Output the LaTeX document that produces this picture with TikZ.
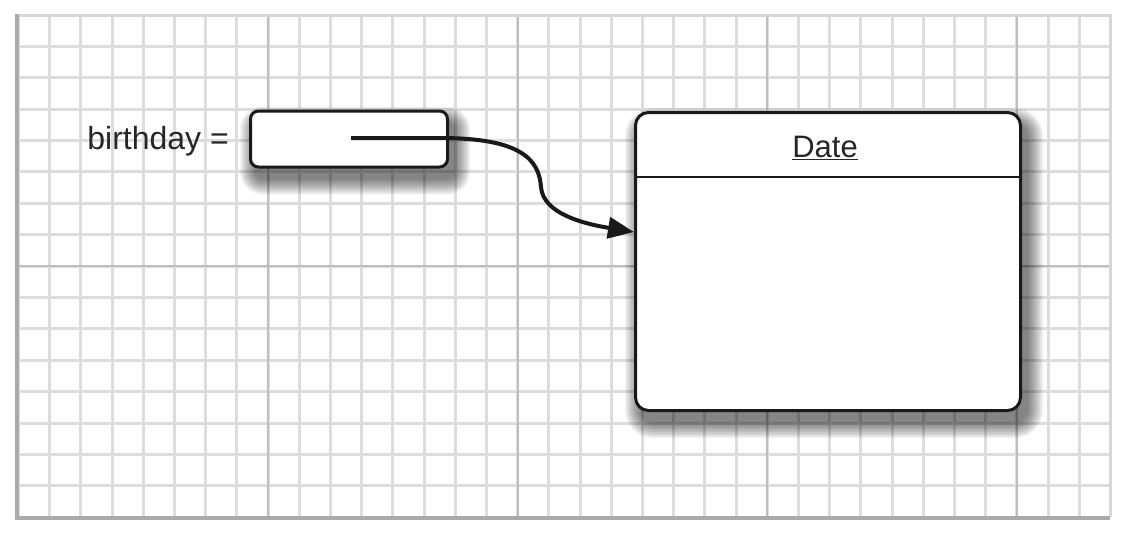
\documentclass[tikz,border=0pt]{standalone}
\usepackage{fontspec}
\setmainfont{Liberation Sans}
\usetikzlibrary{arrows.meta,calc}
\definecolor{minorgrid}{RGB}{221,221,221}
\definecolor{majorgrid}{RGB}{190,190,190}
\definecolor{edgedark}{RGB}{170,170,170}
\definecolor{edgelight}{RGB}{215,215,215}
\pgfdeclarelayer{gridlayer}
\pgfdeclarelayer{shadowlayer}
\pgfsetlayers{gridlayer,shadowlayer,main}
\begin{document}
\begin{tikzpicture}[x=1pt,y=-1pt,
  boxstyle/.style={draw=black!90, line width=3pt, fill=white},
  shadowpiece/.style={fill=black, fill opacity=0.055, draw=none},
  label/.style={font=\fontsize{32}{38}\selectfont, text=black!85, inner sep=0pt},
  conn/.style={line width=4pt, draw=black!90, -{Triangle[length=26pt,width=21pt]}}
]
\useasboundingbox (0,0) rectangle (1140,536);
\begin{pgfonlayer}{gridlayer}
\fill[white] (0,0) rectangle (1140,536);
\foreach \k in {-8,...,27} {
  \draw[minorgrid, line width=3pt] ({268+31.2*\k},15) -- ({268+31.2*\k},517);
}
\foreach \k in {-7,...,7} {
  \draw[minorgrid, line width=3pt] (18,{266+31.4*\k}) -- (1110,{266+31.4*\k});
}
\foreach \k in {0,8,16,24} {
  \draw[majorgrid, line width=2pt] ({268+31.2*\k},15) -- ({268+31.2*\k},517);
}
\draw[majorgrid, line width=2pt] (18,266) -- (1110,266);
\draw[edgelight, line width=3pt] (17,15) -- (1110,15) -- (1110,517);
\draw[edgedark, line width=4pt] (17,14) -- (17,518) -- (1110,518);
\end{pgfonlayer}

% reference box
\node[boxstyle, rounded corners=8pt, minimum width=197pt, minimum height=56pt, inner sep=0pt] (ref) at (349,139) {};
\node[label, anchor=base east] (lbl) at (229,149) {birthday =};

% Date object box
\node[boxstyle, rounded corners=13pt, minimum width=385pt, minimum height=298pt, inner sep=0pt] (date) at (828,261.5) {};
\coordinate (sepL) at ($(date.north west)+(0,66)$);
\coordinate (sepR) at ($(date.north east)+(0,66)$);
\draw[line width=2.5pt, black!90] (sepL) -- (sepR);
\node[label, anchor=base, font=\fontsize{31}{37}\selectfont] (title) at (825,157) {\underline{Date}};

% soft shadows
\begin{pgfonlayer}{shadowlayer}
\foreach \e in {0,1.5,...,15} {
  \fill[shadowpiece, rounded corners={8pt+\e pt}]
    ($(ref.north west)+(6-\e,12-\e)$) rectangle ($(ref.south east)+(6+\e,11+\e)$);
  \fill[shadowpiece, rounded corners={13pt+\e pt}]
    ($(date.north west)+(6-\e,12-\e)$) rectangle ($(date.south east)+(6+\e,11+\e)$);
}
\end{pgfonlayer}

% connector
\coordinate (start) at (351,138);
\coordinate (tip) at ($(date.west)+(0,-29.5)$);
\draw[conn] (start) -- (440,138) .. controls (522,138) and (539,160) .. (541,187)
  .. controls (543,214) and (585,224) .. (tip);
\end{tikzpicture}
\end{document}
